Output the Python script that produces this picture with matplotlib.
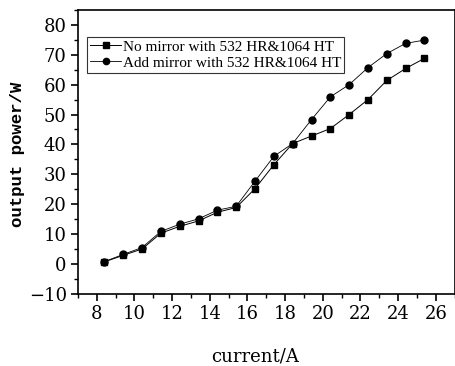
import matplotlib
matplotlib.use('Agg')
import matplotlib.pyplot as plt
from matplotlib.ticker import MultipleLocator

current = [8.4, 9.4, 10.4, 11.4, 12.4, 13.4, 14.4, 15.4, 16.4,
           17.4, 18.4, 19.4, 20.4, 21.4, 22.4, 23.4, 24.4, 25.4]
no_mirror = [0.7, 2.9, 5.0, 10.3, 12.6, 14.4, 17.3, 18.9, 25.2,
             33.2, 40.3, 42.8, 45.3, 50.0, 55.0, 61.4, 65.4, 68.8]
add_mirror = [0.8, 3.2, 5.5, 10.9, 13.3, 15.1, 18.0, 19.3, 27.7,
              36.0, 40.3, 48.3, 55.9, 60.0, 65.7, 70.4, 73.8, 74.9]

label_a = 'No mirror with 532 HR&1064 HT'
label_b = 'Add mirror with 532 HR&1064 HT'

fig = plt.figure(figsize=(4.56, 3.66), dpi=100)
ax = fig.add_axes([0.171, 0.197, 0.826, 0.776])

ax.plot(current, no_mirror, '-s', color='black', lw=0.7, ms=4.5, label=label_a)
ax.plot(current, add_mirror, '-o', color='black', lw=0.6, ms=5, label=label_b)

ax.set_xlim(7, 27)
ax.set_ylim(-10, 85)
ax.xaxis.set_major_locator(MultipleLocator(2))
ax.xaxis.set_minor_locator(MultipleLocator(1))
ax.yaxis.set_major_locator(MultipleLocator(10))
ax.yaxis.set_minor_locator(MultipleLocator(5))
ax.tick_params(which='major', direction='out', length=5, width=1.2,
               labelsize=13, pad=3)
ax.tick_params(which='minor', direction='out', length=3, width=1)
for lab in ax.get_xticklabels() + ax.get_yticklabels():
    lab.set_family('DejaVu Serif')
for sp in ax.spines.values():
    sp.set_linewidth(1.2)

ax.set_xlabel('current/A', family='DejaVu Serif', fontsize=13, va='top')
ax.xaxis.set_label_coords(0.47, -0.19)
ax.set_ylabel('output power/W', family='Liberation Mono', fontsize=12.5,
              weight='bold', va='center')
ax.yaxis.set_label_coords(-0.16, 0.49)

leg = ax.legend(loc='upper left', bbox_to_anchor=(0.025, 0.905),
                prop={'family': 'Liberation Serif', 'size': 11},
                frameon=True, fancybox=False, edgecolor='black',
                handlelength=2.0, handletextpad=0.1, borderpad=0.2,
                labelspacing=0.15, borderaxespad=0, markerscale=0.9)
leg.get_frame().set_linewidth(0.8)

fig.savefig('out.png', dpi=100)
